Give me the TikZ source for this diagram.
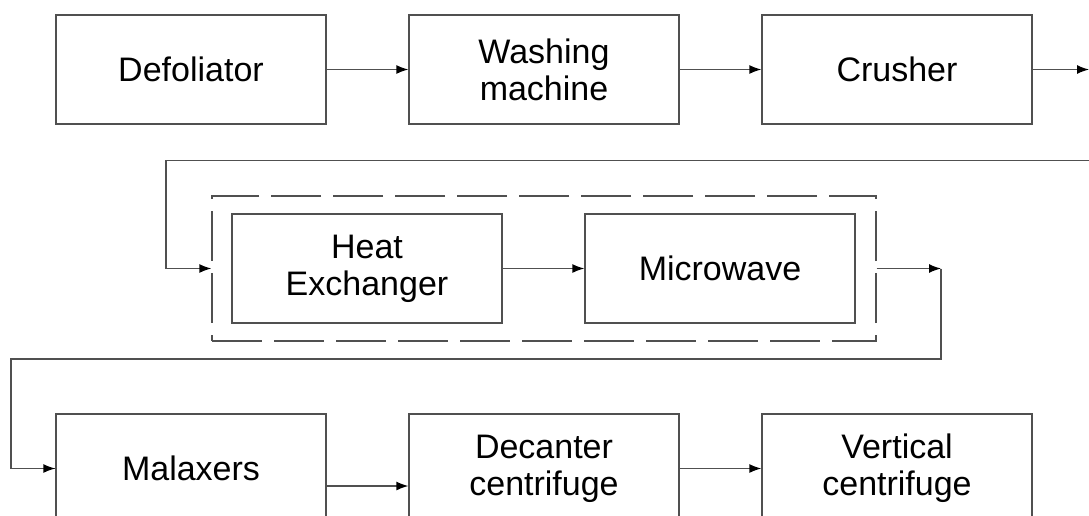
\documentclass[tikz,border=0pt]{standalone}
\usepackage{fontspec}
\setmainfont{Liberation Sans}
\usetikzlibrary{arrows.meta}
\definecolor{ln}{HTML}{505050}
\begin{document}
\begin{tikzpicture}[x=1pt,y=-1pt,
  blk/.style={draw=ln,line width=1.3pt,minimum width=270pt,minimum height=109pt,inner sep=0pt,align=center,font=\fontsize{34}{37}\selectfont,text=black},
  con/.style={draw=ln,line width=1.3pt},
  arr/.style={con,-{Latex[length=12pt,width=9pt,fill=black,color=black]}}]
\useasboundingbox (0,0) rectangle (1089,515);
\clip (0,0) rectangle (1089,515);
\node[blk] (def) at (191,69.5) {Defoliator};
\node[blk] (wash) at (544,69.5) {Washing\\machine};
\node[blk] (crush) at (897,69.5) {Crusher};
\node[blk] (he) at (367,268.5) {Heat\\Exchanger};
\node[blk] (mw) at (720,268.5) {Microwave};
\node[draw=ln,line width=1.3pt,dash pattern=on 50pt off 12pt,minimum width=664pt,minimum height=145pt,inner sep=0pt] (grp) at (544,268.5) {};
\node[blk] (mal) at (191,468.5) {Malaxers};
\node[blk] (dec) at (544,468.5) {Decanter\\centrifuge};
\node[blk] (vert) at (897,468.5) {Vertical\\centrifuge};
\coordinate (e1) at (1089,69.5);
\coordinate (e2) at (1089,160.5);
\coordinate (c1) at (941,268.5);
\draw[arr] (def.east) -- (wash.west);
\draw[arr] (wash.east) -- (crush.west);
\draw[arr] (crush.east) -- (e1);
\draw[arr] (e2) -| (166,268.5) -- (grp.west);
\draw[arr] (he.east) -- (mw.west);
\draw[arr] (grp.east) -- (c1);
\draw[con] (c1) |- (11,359) |- (mal.west);
\draw[arr] (11,468.5) -- (mal.west);
\draw[arr] ([yshift=-17.5pt]mal.east) -- ([yshift=-17.5pt]dec.west);
\draw[arr] (dec.east) -- (vert.west);
\end{tikzpicture}
\end{document}
